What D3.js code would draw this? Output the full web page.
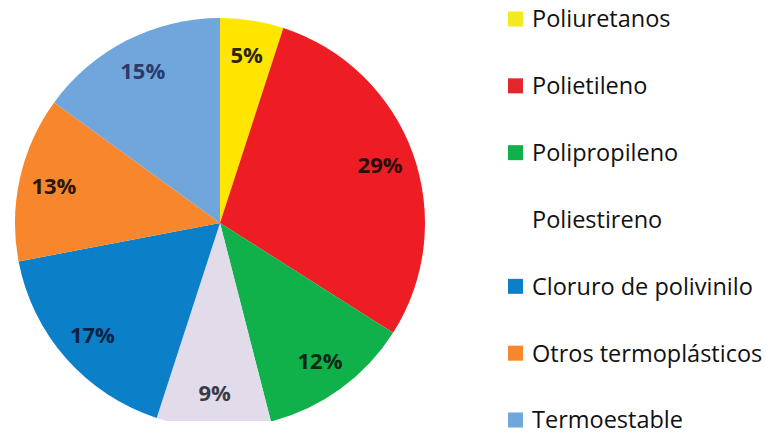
<!DOCTYPE html>
<html>
<head>
<meta charset="utf-8">
<script src="https://cdn.jsdelivr.net/npm/d3@7"></script>
<style>
  body { margin: 0; background: #fff; }
  svg { display: block; }
</style>
</head>
<body>
<svg id="chart" width="766" height="436"></svg>
<script>
// ----------------------------
// Data
// ----------------------------
const categories = ["Poliuretanos", "Polietileno", "Polipropileno", "Poliestireno",
                    "Cloruro de polivinilo", "Otros termoplásticos", "Termoestable"];
const shares = [5, 29, 12, 9, 17, 13, 15];
const sliceColors = ["#ffe600", "#ee1d23", "#10b04b", "#e2dbea", "#0b7fc8", "#f7862c", "#71a6dc"];
const swatchColors = ["#f2ea1e", "#e3262b", "#10b04b", "#ffffff", "#0b7fc8", "#f7862c", "#71a6dc"];
const labelColors = ["#2a2410", "#2a0a0a", "#0d2a14", "#3c3a48", "#0f2240", "#2a1808", "#2b3a6b"];

// ----------------------------
// Pie
// ----------------------------
const svg = d3.select("#chart");
const cx = 220, cy = 223, R = 205;

// the source picture is cropped just below the pie
svg.append("defs").append("clipPath").attr("id", "cut")
  .append("rect").attr("x", 0).attr("y", 0).attr("width", 766).attr("height", 421);

const pie = d3.pie().sort(null).value(d => d);
const arcs = pie(shares);
const arc = d3.arc().innerRadius(0).outerRadius(R);
const labelArc = d3.arc().innerRadius(R * 0.83).outerRadius(R * 0.83);

const g = svg.append("g").attr("clip-path", "url(#cut)")
  .append("g").attr("transform", `translate(${cx},${cy})`);

g.selectAll("path.slice")
  .data(arcs)
  .join("path")
  .attr("class", "slice")
  .attr("d", arc)
  .attr("fill", (d, i) => sliceColors[i]);

g.selectAll("text.pct")
  .data(arcs)
  .join("text")
  .attr("class", "pct")
  .attr("transform", d => `translate(${labelArc.centroid(d)})`)
  .attr("text-anchor", "middle")
  .attr("dy", "0.36em")
  .attr("font-family", "Open Sans, sans-serif")
  .attr("font-weight", 700)
  .attr("font-size", 22)
  .attr("fill", (d, i) => labelColors[i])
  .text(d => d.data + "%");

// ----------------------------
// Legend
// ----------------------------
const legendY = d3.scalePoint().domain(categories).range([19, 420]);

const rows = svg.append("g").selectAll("g.row")
  .data(categories)
  .join("g")
  .attr("class", "row")
  .attr("transform", d => `translate(508,${legendY(d)})`);

rows.append("rect")
  .attr("x", 0).attr("y", -7.5)
  .attr("width", 15).attr("height", 15)
  .attr("fill", (d, i) => swatchColors[i]);

rows.append("text")
  .attr("x", 24)
  .attr("dy", "0.36em")
  .attr("font-family", "Open Sans, sans-serif")
  .attr("font-weight", 500)
  .attr("font-size", 23.5)
  .attr("fill", "#111")
  .text(d => d);
</script>
</body>
</html>
